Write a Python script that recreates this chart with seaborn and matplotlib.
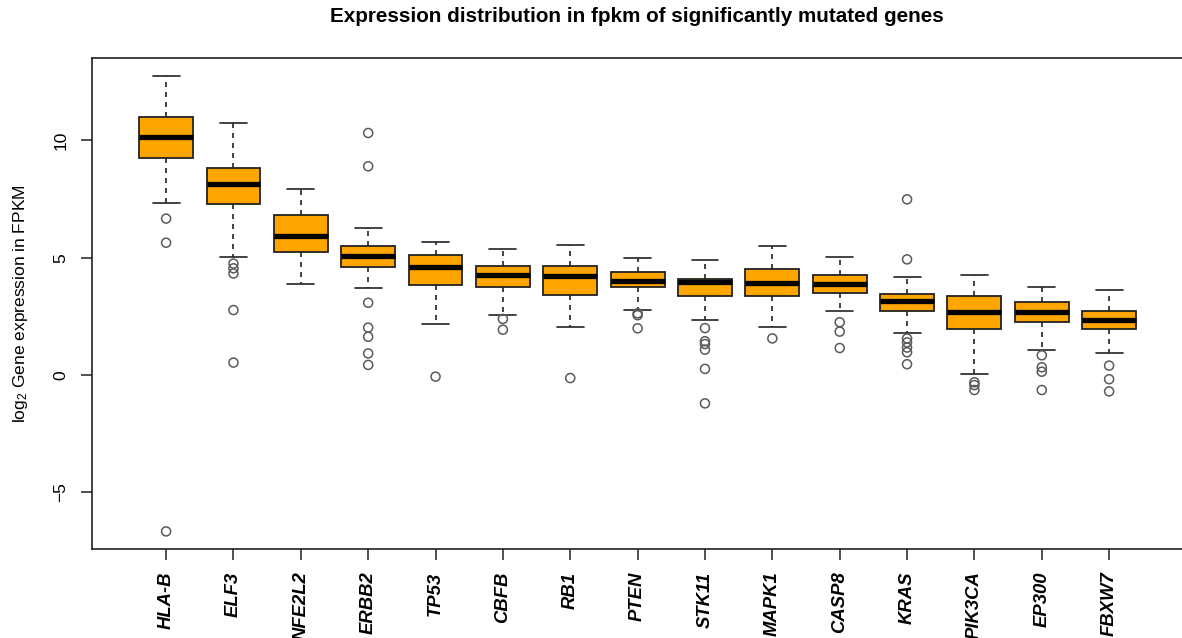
import matplotlib
matplotlib.use("Agg")
import matplotlib.pyplot as plt
import seaborn as sns
import pandas as pd

# ---- data ----
genes = ["HLA-B", "ELF3", "NFE2L2", "ERBB2", "TP53", "CBFB", "RB1", "PTEN",
         "STK11", "MAPK1", "CASP8", "KRAS", "PIK3CA", "EP300", "FBXW7"]
whisker_low = [7.35, 5.05, 3.90, 3.71, 2.16, 2.55, 2.05, 2.76, 2.36, 2.05, 2.73, 1.78, 0.06, 1.07, 0.94]
q1          = [9.27, 7.28, 5.25, 4.61, 3.82, 3.75, 3.42, 3.75, 3.37, 3.37, 3.50, 2.74, 1.98, 2.27, 1.96]
median      = [10.14, 8.14, 5.94, 5.07, 4.61, 4.28, 4.21, 4.02, 3.97, 3.92, 3.87, 3.14, 2.67, 2.67, 2.35]
q3          = [10.99, 8.83, 6.84, 5.49, 5.12, 4.65, 4.65, 4.41, 4.08, 4.53, 4.26, 3.44, 3.37, 3.11, 2.74]
whisker_high = [12.74, 10.76, 7.92, 6.25, 5.67, 5.36, 5.56, 4.98, 4.90, 5.49, 5.03, 4.19, 4.26, 3.75, 3.64]
outliers = [
    [6.67, 5.64, -6.67],
    [4.75, 4.55, 4.33, 2.77, 0.53],
    [],
    [10.32, 8.90, 3.08, 2.02, 1.63, 0.92, 0.43],
    [-0.07],
    [2.39, 1.93],
    [-0.13],
    [2.63, 2.55, 1.99],
    [2.00, 1.44, 1.32, 1.08, 0.26, -1.21],
    [1.56],
    [2.25, 1.85, 1.15],
    [7.49, 4.93, 1.56, 1.39, 1.17, 0.97, 0.46],
    [-0.31, -0.43, -0.64],
    [0.84, 0.33, 0.14, -0.64],
    [0.40, -0.18, -0.70],
]
yticks = [-5, 0, 5, 10]
ytick_labels = ["\u22125", "0", "5", "10"]
title = "Expression distribution in fpkm of significantly mutated genes"
ylabel = "log$_2$ Gene expression in FPKM"

# ---- long-form tables ----
box_rows = []
for g, a, b, c, d, e in zip(genes, whisker_low, q1, median, q3, whisker_high):
    for v in (a, b, c, d, e):
        box_rows.append({"gene": g, "value": v})
box_df = pd.DataFrame(box_rows)
out_df = pd.DataFrame([{"gene": g, "value": v} for g, vals in zip(genes, outliers) for v in vals])

# ---- style ----
sns.set_style("white")
plt.rcParams["font.family"] = ["Liberation Sans", "DejaVu Sans"]
plt.rcParams["mathtext.default"] = "regular"
for k in ("text.color", "axes.labelcolor", "xtick.color", "ytick.color"):
    plt.rcParams[k] = "black"

W, H = 1182, 638
fig = plt.figure(figsize=(W / 100, H / 100), dpi=100)
left_px, top_px, bottom_px = 92, 58.3, 549.3
unit_px = 67.36
xmin, xmax = -1.1, 15.1
ax = fig.add_axes([left_px / W, (H - bottom_px) / H,
                   (xmax - xmin) * unit_px / W, (bottom_px - top_px) / H])

edge = "#222222"
sns.boxplot(data=box_df, x="gene", y="value", order=genes, ax=ax,
            whis=(0, 100), showfliers=False, width=0.8,
            color="#FFA500", linecolor=edge, linewidth=1.3, saturation=1,
            boxprops=dict(facecolor="#FFA500", edgecolor=edge, linewidth=1.3),
            medianprops=dict(color="black", linewidth=3.8, solid_capstyle="butt"),
            whiskerprops=dict(color=edge, linewidth=1.2, linestyle=(0, (3.0, 3.0))),
            capprops=dict(color=edge, linewidth=1.2))

n_before = len(ax.collections)
sns.stripplot(data=out_df, x="gene", y="value", order=genes, ax=ax,
              jitter=False, size=6.5, color="white", linewidth=1.0,
              edgecolor="#5a5a5a")
for c in ax.collections[n_before:]:
    c.set_facecolor("none")
    c.set_edgecolor("#5a5a5a")
    c.set_linewidth(1.1)

ax.set_xlim(xmin, xmax)
ax.set_ylim(-7.433, 13.505)
ax.set_yticks(yticks)
ax.set_yticklabels(ytick_labels, rotation=90, va="center", fontsize=12.5)
ax.set_xticks(range(len(genes)))
ax.set_xticklabels(genes, rotation=90, fontsize=13.3, fontweight="bold",
                   fontstyle="italic", va="top", ha="center")
ax.tick_params(axis="both", direction="out", length=8, width=1.1, color=edge,
               bottom=True, left=True)
ax.tick_params(axis="y", pad=9)
ax.tick_params(axis="x", pad=8)
ax.set_xlabel("")
ax.set_ylabel(ylabel, fontsize=12.5, labelpad=17)
for name, s in ax.spines.items():
    s.set_visible(name != "right")
    s.set_color(edge)
    s.set_linewidth(1.2)

fig.text(637 / W, 1 - 16 / H, title, ha="center", va="center",
         fontsize=14.9, fontweight="bold",
         family=["Liberation Sans", "DejaVu Sans"])

fig.savefig("out.png", dpi=100)
